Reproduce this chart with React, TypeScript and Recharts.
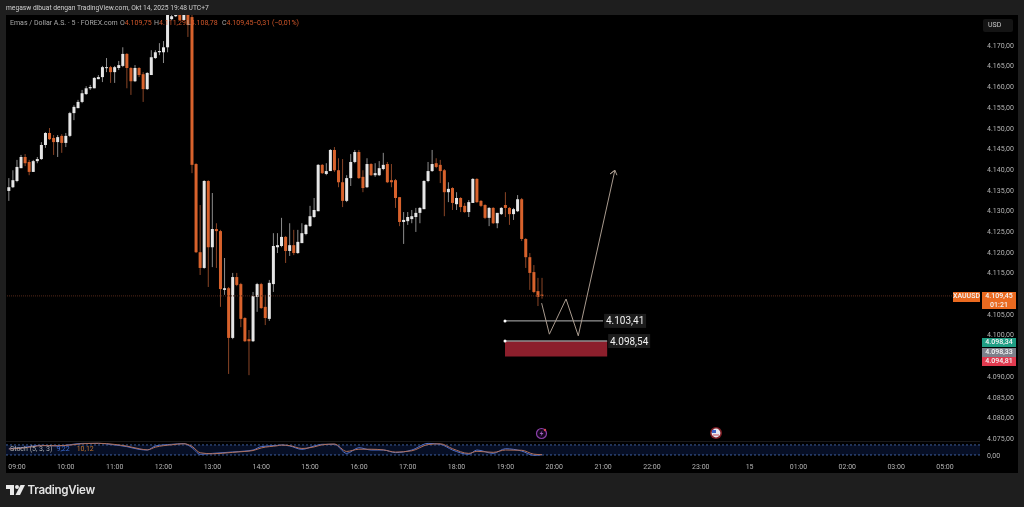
import React from "react";
import {
  ComposedChart,
  Bar,
  Line,
  XAxis,
  YAxis,
  ReferenceLine,
  ReferenceArea,
  ReferenceDot,
} from "recharts";

const FONT = "Roboto, sans-serif";
const UP = "#e6e6e6";
const DOWN = "#d8622c";
const BODY_W = 3;

// one candle every 5 minutes, t = 0 is 09:00
const firstT = -2;
const opens = [
  4134.8, 4135.7, 4137.2, 4140.3, 4143.0, 4141.8, 4139.4, 4142.0, 4142.5, 4145.9, 4148.8, 4147.6, 4146.6, 4148.1, 4146.4, 4148.1, 4153.6, 4154.8, 4156.3, 4158.2,
  4159.6, 4159.6, 4161.8, 4162.3, 4164.5, 4164.7, 4163.5, 4164.5, 4165.0, 4167.9, 4164.5, 4161.3, 4164.5, 4163.0, 4159.4, 4162.8, 4166.9, 4168.3, 4168.3, 4169.5,
  4176.3, 4177.0, 4177.3, 4176.1, 4177.3, 4176.8, 4141.3, 4120.0, 4116.2, 4137.2, 4121.2, 4125.6, 4125.1, 4110.9, 4111.3, 4099.3, 4114.0, 4112.3, 4104.1, 4099.0,
  4098.5, 4109.2, 4112.3, 4106.8, 4103.9, 4112.3, 4121.2, 4121.5, 4123.7, 4120.3, 4121.7, 4119.8, 4122.2, 4124.4, 4126.3, 4128.5, 4129.9, 4141.1, 4138.9, 4139.6,
  4144.7, 4139.8, 4136.9, 4132.4, 4137.9, 4141.8, 4144.2, 4138.2, 4135.7, 4141.3, 4138.6, 4138.6, 4140.1, 4141.3, 4137.4, 4137.4, 4133.3, 4127.3, 4127.5, 4128.0,
  4128.5, 4129.5, 4130.4, 4137.2, 4139.6, 4141.5, 4141.1, 4139.8, 4134.5, 4135.5, 4131.6, 4133.1, 4131.2, 4129.7, 4131.9, 4137.7, 4132.4, 4131.4, 4128.3, 4130.7,
  4127.0, 4129.2, 4131.4, 4130.7, 4129.2, 4129.9, 4132.8, 4123.2, 4118.8, 4115.2, 4110.6, 4109.75,
];
const highs = [
  4137.9, 4139.8, 4142.3, 4143.5, 4143.7, 4142.3, 4142.3, 4143.0, 4146.6, 4149.0, 4150.0, 4148.3, 4148.3, 4148.5, 4148.8, 4153.9, 4155.5, 4156.8, 4159.2, 4160.1,
  4160.4, 4162.3, 4162.8, 4165.0, 4166.9, 4165.0, 4165.0, 4166.2, 4169.5, 4168.1, 4164.7, 4165.2, 4164.7, 4163.5, 4163.5, 4168.8, 4168.8, 4170.5, 4171.0, 4177.3,
  4177.3, 4177.3, 4177.3, 4177.3, 4177.3, 4177.3, 4141.5, 4131.4, 4137.4, 4137.4, 4134.3, 4127.0, 4125.4, 4118.6, 4111.6, 4115.0, 4115.0, 4112.6, 4104.3, 4101.2,
  4110.4, 4112.6, 4112.6, 4109.7, 4113.3, 4124.6, 4124.6, 4128.3, 4123.9, 4127.0, 4125.4, 4125.4, 4127.0, 4126.8, 4131.2, 4133.1, 4141.3, 4141.3, 4141.5, 4144.9,
  4145.4, 4142.7, 4142.5, 4138.6, 4143.7, 4144.7, 4144.7, 4139.8, 4142.7, 4141.5, 4141.5, 4142.0, 4144.0, 4141.8, 4141.3, 4137.7, 4133.3, 4129.7, 4129.7, 4130.2,
  4130.7, 4130.9, 4137.4, 4141.8, 4144.7, 4142.7, 4142.3, 4140.1, 4136.9, 4135.7, 4134.5, 4133.3, 4131.9, 4132.6, 4137.9, 4137.9, 4132.6, 4131.6, 4130.9, 4130.9,
  4129.5, 4130.9, 4134.5, 4130.9, 4130.7, 4133.8, 4133.1, 4123.4, 4119.8, 4116.9, 4113.8, 4113.8,
];
const lows = [
  4132.4, 4135.5, 4136.9, 4140.3, 4140.8, 4138.6, 4139.4, 4141.5, 4142.3, 4145.2, 4147.1, 4143.5, 4143.0, 4144.0, 4145.4, 4147.8, 4151.9, 4154.8, 4156.0, 4158.0,
  4159.2, 4159.6, 4161.8, 4161.1, 4163.5, 4160.9, 4160.9, 4164.0, 4164.7, 4159.6, 4158.0, 4161.1, 4162.3, 4156.3, 4159.2, 4162.8, 4166.7, 4167.6, 4165.7, 4168.3,
  4176.0, 4176.8, 4176.0, 4176.0, 4172.0, 4139.1, 4119.8, 4114.5, 4116.0, 4111.6, 4116.4, 4116.2, 4106.8, 4109.7, 4090.6, 4099.0, 4111.8, 4101.9, 4098.3, 4090.3,
  4098.3, 4105.6, 4106.3, 4102.4, 4103.4, 4110.4, 4119.8, 4121.2, 4117.4, 4119.1, 4119.3, 4119.6, 4122.2, 4124.1, 4126.1, 4128.3, 4129.9, 4138.9, 4138.6, 4139.6,
  4139.4, 4135.7, 4130.9, 4132.1, 4136.0, 4141.5, 4137.7, 4134.5, 4135.5, 4138.4, 4138.2, 4138.4, 4139.8, 4136.7, 4135.7, 4130.7, 4126.3, 4122.0, 4126.6, 4127.0,
  4124.9, 4127.0, 4130.4, 4136.9, 4139.4, 4140.3, 4136.7, 4128.7, 4132.1, 4130.2, 4130.2, 4129.7, 4129.5, 4128.5, 4131.9, 4131.9, 4130.9, 4128.0, 4126.3, 4126.8,
  4125.8, 4129.0, 4128.5, 4126.6, 4127.8, 4129.7, 4122.7, 4116.2, 4110.9, 4110.1, 4107.0, 4108.78,
];
const closes = [
  4135.7, 4137.4, 4140.6, 4143.0, 4141.5, 4139.4, 4142.0, 4142.5, 4145.9, 4148.8, 4147.3, 4146.6, 4147.8, 4146.4, 4148.1, 4153.6, 4155.1, 4156.3, 4158.4, 4159.6,
  4159.9, 4162.1, 4162.3, 4164.7, 4164.7, 4163.5, 4164.7, 4165.2, 4167.9, 4164.5, 4161.3, 4164.5, 4162.8, 4159.4, 4163.3, 4167.1, 4168.3, 4168.6, 4169.5, 4177.3,
  4177.0, 4177.3, 4176.1, 4177.3, 4174.9, 4141.1, 4120.0, 4116.2, 4137.2, 4121.2, 4125.6, 4125.1, 4111.1, 4111.3, 4099.3, 4114.0, 4112.1, 4103.9, 4098.5, 4098.5,
  4109.4, 4112.3, 4106.5, 4104.1, 4112.6, 4121.5, 4121.7, 4123.7, 4120.3, 4121.7, 4119.8, 4122.5, 4124.6, 4126.6, 4128.7, 4130.2, 4141.1, 4139.1, 4139.6, 4144.7,
  4139.8, 4136.9, 4132.4, 4137.9, 4141.8, 4144.2, 4137.9, 4135.5, 4141.3, 4138.6, 4139.1, 4140.3, 4141.1, 4136.9, 4136.9, 4133.1, 4127.3, 4127.8, 4128.5, 4128.7,
  4129.5, 4130.7, 4137.2, 4139.6, 4141.3, 4140.6, 4139.6, 4134.5, 4135.3, 4131.9, 4133.1, 4130.9, 4129.7, 4132.1, 4137.7, 4132.1, 4131.2, 4128.3, 4130.7, 4127.0,
  4129.5, 4130.7, 4130.7, 4129.2, 4130.4, 4132.8, 4123.2, 4118.8, 4115.0, 4110.4, 4109.2, 4109.45,
];

const candles = opens.map((open, i) => ({
  t: i + firstT,
  open,
  high: highs[i],
  low: lows[i],
  close: closes[i],
  range: [lows[i], highs[i]],
}));

const timeTicks = [0, 12, 24, 36, 48, 60, 72, 84, 96, 108, 120, 132, 144, 156, 168, 180, 192, 204, 216, 228];
const timeLabels = ["09:00", "10:00", "11:00", "12:00", "13:00", "14:00", "15:00", "16:00", "17:00", "18:00", "19:00", "20:00", "21:00", "22:00", "23:00", "15", "01:00", "02:00", "03:00", "05:00"];
// 4.110,00 and 4.095,00 sit behind the price tags in the reference
const priceTicks = [4075, 4080, 4085, 4090, 4100, 4105, 4115, 4120, 4125, 4130, 4135, 4140, 4145, 4150, 4155, 4160, 4165, 4170];

const lastPrice = 4109.45;
const entryPrice = 4103.41;
const stopTop = 4098.54;
const stopBottom = 4094.81;
const levelStart = 119.9;
const entryEnd = 144;
const stopEnd = 145;

const pathT = [128.9, 130.8, 134.9, 137.9, 146.9, 145.7, 146.9, 147.4];
const pathPrice = [4107.7, 4100.2, 4108.7, 4099.8, 4139.8, 4138.9, 4139.8, 4138.6];
const pathData = pathT.map((t, i) => ({ t, p: pathPrice[i] }));

const stochT = [-2, 1, 4, 6, 10, 13, 16, 20, 24, 27, 30, 32, 34, 38, 41, 43, 45, 48, 53, 56, 58, 60, 64, 65, 67, 70, 73, 75, 78, 81, 84, 87, 90, 93, 97, 101, 104, 107, 111, 113, 117, 120, 124, 127, 129];
const stochK = [56, 64, 77, 82, 77, 87, 97, 97, 85, 72, 51, 46, 77, 90, 95, 64, 13, 20, 31, 38, 46, 72, 82, 85, 77, 51, 77, 90, 90, 20, 64, 46, 46, 26, 46, 97, 90, 46, 13, 46, 20, 56, 38, 5, 9.22];
const stochD = [54, 60, 72, 80, 79, 84, 94, 98, 89, 76, 56, 47, 68, 86, 94, 74, 25, 17, 28, 35, 42, 62, 79, 84, 80, 58, 70, 86, 92, 35, 52, 52, 47, 30, 40, 88, 94, 56, 20, 36, 28, 46, 44, 14, 10.12];
const stochData = stochT.map((t, i) => ({ t, k: stochK[i], d: stochD[i] }));

const ohlcLabels = ["O", "H", "L", "C"];
const ohlcValues = ["4.109,75", "4.111,29", "4.108,78", "4.109,45"];
const ohlcLeft = [120, 154, 187, 222];

const xDomain = [-2.7, 236.6];

const formatPrice = (v: number) => v.toFixed(2).replace(".", ",").replace(/^(\d)(\d{3})/, "$1.$2");

function Candle(props: any) {
  const { x, y, width, height, payload } = props;
  const top = Math.min(y, y + height);
  const h = Math.abs(height);
  const perUnit = h / (payload.high - payload.low || 1);
  const up = payload.close >= payload.open;
  const bodyTop = top + (payload.high - Math.max(payload.open, payload.close)) * perUnit;
  const bodyH = Math.max(Math.abs(payload.close - payload.open) * perUnit, 1);
  const cx = x + width / 2;
  return (
    <g>
      <line x1={cx} x2={cx} y1={top} y2={top + h} stroke={up ? "#8c8c8c" : "#8a4526"} strokeWidth={1} />
      <rect x={cx - BODY_W / 2} y={bodyTop} width={BODY_W} height={bodyH} fill={up ? UP : DOWN} />
    </g>
  );
}

function LevelTag({ cx, cy, text, dx, w }: any) {
  return (
    <g>
      <rect x={cx + dx} y={cy - 7} width={w} height={14} fill="#1c1c1c" />
      <text x={cx + dx + w / 2} y={cy + 3.5} textAnchor="middle" fill="#f0f0f0" fontSize={10} fontFamily={FONT}>{text}</text>
    </g>
  );
}

function Tag({ top, left, width, height, bg, children }: any) {
  return (
    <div style={{
      position: "absolute", top, left, width, height, background: bg, color: "#f4f4f4",
      fontSize: 7, lineHeight: "8.5px", textAlign: "center", fontFamily: FONT, fontWeight: 500,
    }}>
      {children}
    </div>
  );
}

export default function App() {
  return (
    <div style={{ position: "absolute", left: 0, top: 0, width: 1024, height: 507, background: "#1e1e1e", overflow: "hidden", fontFamily: FONT, filter: "blur(0.35px)" }}>
      <div style={{ position: "absolute", left: 6, top: 4, fontSize: 6.7, lineHeight: "8px", color: "#cfcfcf", whiteSpace: "nowrap" }}>
        megasw dibuat dengan TradingView.com, Okt 14, 2025 19:48 UTC+7
      </div>
      <div style={{ position: "absolute", left: 6, top: 15, width: 1012, height: 458, background: "#000" }} />

      <div style={{ position: "absolute", left: 6, top: 15 }}>
        <ComposedChart width={1012} height={430} data={candles} margin={{ top: 0, right: 0, bottom: 5, left: 0 }}>
          <XAxis dataKey="t" type="number" domain={xDomain} allowDataOverflow hide />
          <YAxis
            orientation="right"
            width={38}
            type="number"
            domain={[4074.64, 4177.3]}
            allowDataOverflow
            ticks={priceTicks}
            interval={0}
            tickFormatter={formatPrice}
            axisLine={false}
            tickLine={false}
            tickMargin={1}
            tick={{ fill: "#b4b4b4", fontSize: 7, fontFamily: FONT }}
          />
          <ReferenceLine y={lastPrice} stroke="#54291a" strokeDasharray="1 1" />
          <Bar dataKey="range" barSize={3} shape={Candle} isAnimationActive={false} />
          <ReferenceArea x1={levelStart} x2={stopEnd} y1={stopBottom} y2={stopTop} fill="#8c1f2c" fillOpacity={1} stroke="none" />
          <ReferenceLine segment={[{ x: levelStart, y: entryPrice }, { x: entryEnd, y: entryPrice }]} stroke="#b9b9b9" />
          <ReferenceLine segment={[{ x: levelStart, y: stopTop }, { x: stopEnd, y: stopTop }]} stroke="#8f8f8f" strokeWidth={1.5} />
          <Line data={pathData} dataKey="p" stroke="#a89a8e" strokeWidth={1} dot={false} isAnimationActive={false} />
          <ReferenceDot x={levelStart} y={entryPrice} r={1.5} fill="#fff" stroke="none" />
          <ReferenceDot x={levelStart} y={stopTop} r={1.5} fill="#fff" stroke="none" />
          <ReferenceDot x={entryEnd} y={entryPrice} shape={(p: any) => <LevelTag cx={p.cx} cy={p.cy} dx={1} w={42} text={formatPrice(entryPrice)} />} />
          <ReferenceDot x={stopEnd} y={stopTop} shape={(p: any) => <LevelTag cx={p.cx} cy={p.cy} dx={1} w={42} text={formatPrice(stopTop)} />} />
        </ComposedChart>
      </div>

      <div style={{ position: "absolute", left: 10, top: 19, fontSize: 7, lineHeight: "8px", whiteSpace: "nowrap", color: "#a8a8a8" }}>
        Emas / Dollar A.S. · 5 · FOREX.com
      </div>
      {ohlcValues.map((v, i) => (
        <div key={v} style={{ position: "absolute", left: ohlcLeft[i], top: 19, fontSize: 7, lineHeight: "8px", whiteSpace: "nowrap", color: "#a8a8a8" }}>
          {ohlcLabels[i]}<span style={{ color: "#d0562a" }}>{v}</span>
        </div>
      ))}
      <div style={{ position: "absolute", left: 253, top: 19, fontSize: 7, lineHeight: "8px", whiteSpace: "nowrap", color: "#d0562a" }}>
        −0,31 (−0,01%)
      </div>

      <div style={{
        position: "absolute", left: 983, top: 19, width: 30, height: 13, boxSizing: "border-box", background: "#141414",
        borderRadius: 2, color: "#c8c8c8", fontSize: 7, lineHeight: "13px", paddingLeft: 5,
      }}>USD</div>

      <Tag top={292} left={953} width={27} height={9.5} bg="#ea6a20">XAUUSD</Tag>
      <Tag top={292} left={982} width={34} height={17} bg="#ea6a20">4.109,45<br />01:21</Tag>
      <Tag top={338} left={982} width={34} height={9} bg="#1f9e84">4.098,34</Tag>
      <Tag top={348} left={982} width={34} height={9} bg="#7d808a">4.098,33</Tag>
      <Tag top={357} left={982} width={34} height={9} bg="#e23a4f">4.094,81</Tag>

      <svg style={{ position: "absolute", left: 534, top: 426 }} width={16} height={16}>
        <circle cx={7.5} cy={7.5} r={5} fill="#14071c" stroke="#8b3fa8" strokeWidth={1.2} />
        <polygon points="8.5,4.5 5.5,8 7.5,8 6.5,10.5 9.5,7 7.5,7" fill="#a264c0" />
        <circle cx={11} cy={4} r={1.2} fill="#e0455a" />
      </svg>
      <svg style={{ position: "absolute", left: 708, top: 425 }} width={16} height={16}>
        <circle cx={8} cy={8} r={6} fill="#7c1d24" />
        <circle cx={8} cy={8} r={4.4} fill="#e8e8f0" />
        <rect x={4} y={5} width={4} height={3} fill="#3d62c4" />
        <rect x={5} y={9.5} width={6} height={1} fill="#c9505c" />
      </svg>

      <div style={{ position: "absolute", left: 6, top: 441, width: 974, height: 1, background: "#1a1a1a" }} />
      <div style={{ position: "absolute", left: 6, top: 441 }}>
        <ComposedChart width={1012} height={32} data={stochData} margin={{ top: 0, right: 0, bottom: 0, left: 0 }}>
          <XAxis
            dataKey="t"
            type="number"
            domain={xDomain}
            allowDataOverflow
            ticks={timeTicks}
            interval={0}
            height={15}
            tickFormatter={(v: number) => timeLabels[timeTicks.indexOf(v)]}
            axisLine={false}
            tickLine={false}
            tickMargin={0}
            tick={{ fill: "#b4b4b4", fontSize: 7, fontFamily: FONT }}
          />
          <YAxis
            orientation="right"
            width={38}
            type="number"
            domain={[-15.4, 115.4]}
            allowDataOverflow
            ticks={[0]}
            tickFormatter={() => "0,00"}
            axisLine={false}
            tickLine={false}
            tickMargin={1}
            tick={{ fill: "#b4b4b4", fontSize: 7, fontFamily: FONT }}
          />
          <ReferenceArea y1={8} y2={85} fill="#2962ff" fillOpacity={0.14} stroke="none" />
          <ReferenceLine y={85} stroke="#3d5f9e" strokeDasharray="2 2" />
          <ReferenceLine y={8} stroke="#3d5f9e" strokeDasharray="2 2" />
          <Line dataKey="k" type="monotone" stroke="#4f6fc8" strokeWidth={1} dot={false} isAnimationActive={false} />
          <Line dataKey="d" type="monotone" stroke="#b0705a" strokeWidth={1} dot={false} isAnimationActive={false} />
        </ComposedChart>
      </div>
      <div style={{ position: "absolute", left: 10, top: 445, fontSize: 7, lineHeight: "8px", color: "#b0b0b0", whiteSpace: "nowrap" }}>
        Stoch (5, 3, 3)
        <span style={{ color: "#3f6fd8", marginLeft: 4 }}>9,22</span>
        <span style={{ color: "#c9792c", marginLeft: 7 }}>10,12</span>
      </div>

      <svg style={{ position: "absolute", left: 6, top: 484 }} width={20} height={12}>
        <path d="M0 1H8V11H4V5H0Z" fill="#e8e8e8" />
        <circle cx={11} cy={3} r={2} fill="#e8e8e8" />
        <path d="M14.5 1H19L14 11H9.5Z" fill="#e8e8e8" />
      </svg>
      <div style={{ position: "absolute", left: 27.5, top: 483, fontSize: 11.6, lineHeight: "14px", fontWeight: 600, color: "#e4e4e4", fontFamily: "Inter, sans-serif", whiteSpace: "nowrap", letterSpacing: -0.3 }}>
        TradingView
      </div>
    </div>
  );
}
